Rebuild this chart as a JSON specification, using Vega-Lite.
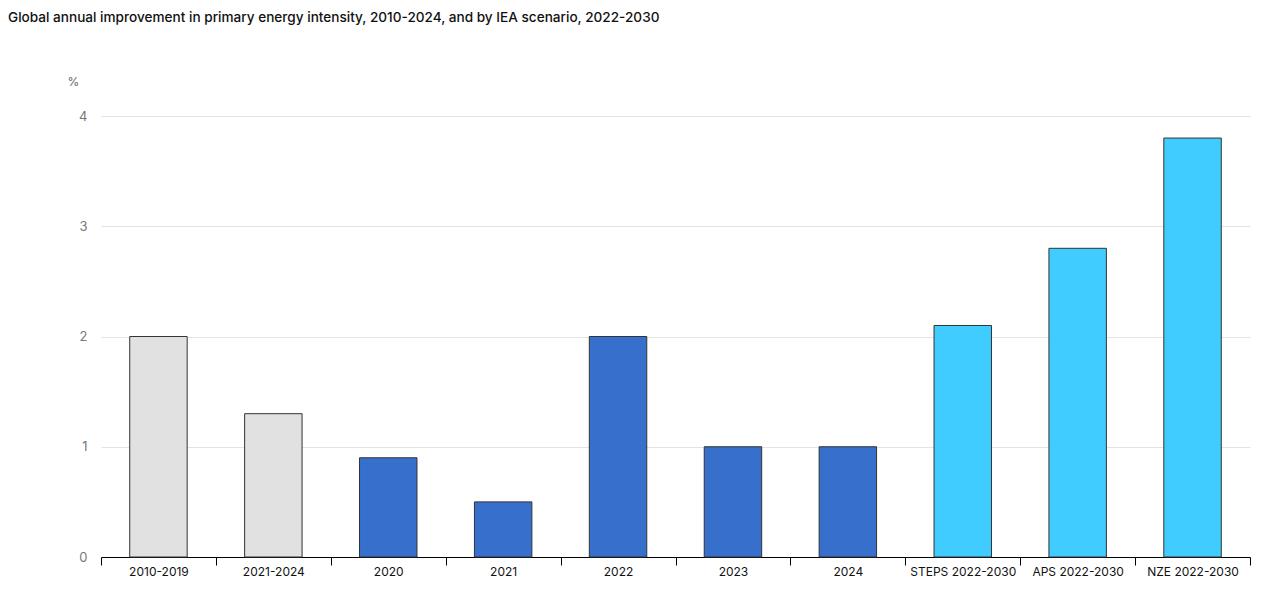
{
  "$schema": "https://vega.github.io/schema/vega-lite/v6.json",
  "width": 1149,
  "height": 441,
  "autosize": {"type": "none"},
  "padding": {"left": 101, "top": 116, "right": 26, "bottom": 53},
  "background": "white",
  "title": {
    "text": "Global annual improvement in primary energy intensity, 2010-2024, and by IEA scenario, 2022-2030",
    "anchor": "start",
    "frame": "group",
    "dx": -93,
    "font": "Inter",
    "fontSize": 13.6,
    "fontWeight": 500,
    "color": "#111111",
    "orient": "top",
    "baseline": "middle",
    "offset": 0,
    "dy": -43
  },
  "data": {
    "values": [
      {"cat": "2010-2019", "value": 2.0, "group": "hist"},
      {"cat": "2021-2024", "value": 1.3, "group": "hist"},
      {"cat": "2020", "value": 0.9, "group": "year"},
      {"cat": "2021", "value": 0.5, "group": "year"},
      {"cat": "2022", "value": 2.0, "group": "year"},
      {"cat": "2023", "value": 1.0, "group": "year"},
      {"cat": "2024", "value": 1.0, "group": "year"},
      {"cat": "STEPS 2022-2030", "value": 2.1, "group": "scen"},
      {"cat": "APS 2022-2030", "value": 2.8, "group": "scen"},
      {"cat": "NZE 2022-2030", "value": 3.8, "group": "scen"}
    ]
  },
  "mark": {"type": "bar", "stroke": "#333333", "strokeWidth": 1, "width": {"band": 0.5}},
  "encoding": {
    "x": {
      "field": "cat",
      "type": "nominal",
      "sort": null,
      "scale": {"paddingInner": 0, "paddingOuter": 0},
      "axis": {
        "title": null,
        "labelAngle": 0,
        "domainColor": "#000000",
        "tickColor": "#000000",
        "tickBand": "extent",
        "tickSize": 8,
        "labelFont": "Inter",
        "labelFontSize": 12,
        "labelColor": "#111111",
        "labelPadding": 1
      }
    },
    "y": {
      "field": "value",
      "type": "quantitative",
      "scale": {"domain": [0, 4]},
      "axis": {
        "values": [0, 1, 2, 3, 4],
        "title": "%",
        "titleAngle": 0,
        "titleX": -28,
        "titleY": -35,
        "titleAlign": "center",
        "titleBaseline": "middle",
        "titleFont": "Inter",
        "titleFontSize": 12,
        "titleFontWeight": "normal",
        "titleColor": "#666666",
        "domain": false,
        "ticks": false,
        "labelPadding": 14,
        "labelFont": "Inter",
        "labelFontSize": 13,
        "labelColor": "#777777",
        "gridColor": "#e3e3e3"
      }
    },
    "color": {
      "field": "group",
      "type": "nominal",
      "scale": {"domain": ["hist", "year", "scen"], "range": ["#e1e1e1", "#376fcd", "#40ccff"]},
      "legend": null
    }
  },
  "config": {"view": {"stroke": null}}
}
